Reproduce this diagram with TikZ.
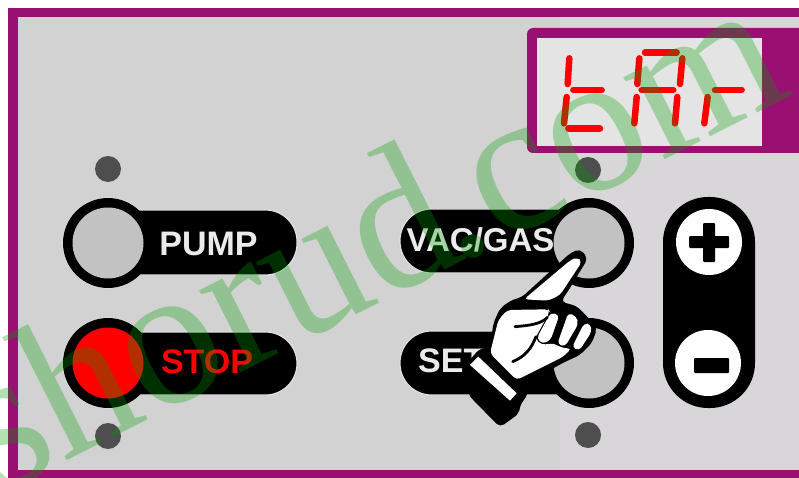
\documentclass[tikz,border=0pt]{standalone}
\usepackage{fontspec}
\setmainfont{Liberation Serif}
\setsansfont{Liberation Sans}
\definecolor{frame}{HTML}{9A0F72}
\definecolor{panel}{HTML}{D2D2D2}
\definecolor{panelb}{HTML}{D8D6D8}
\definecolor{led}{HTML}{4E4E4E}
\definecolor{keyface}{HTML}{C2C2C2}
\definecolor{lcd}{HTML}{E4E4E4}
\definecolor{seg}{HTML}{FF0000}
\definecolor{wm}{HTML}{00A000}
\definecolor{halo}{HTML}{E2E2E2}
\tikzset{
  ledlamp/.style={circle,fill=led,minimum size=26pt,inner sep=0pt},
  keyhalo/.style={circle,fill=black,draw=halo,line width=1.2pt,minimum size=90pt,inner sep=0pt},
  keyring/.style={circle,fill=black,minimum size=90pt,inner sep=0pt},
  keyfacestyle/.style={circle,fill=keyface,minimum size=71pt,inner sep=0pt},
  pill/.style={rounded corners=31.5pt,fill=black,draw=halo,line width=1.2pt},
  keytext/.style={font=\sffamily\bfseries\fontsize{34}{34}\selectfont,text=white!92!black,inner sep=0pt},
  segment/.style={draw=seg,line width=6.5pt,line cap=round},
  signbtn/.style={circle,fill=white,minimum size=66pt,inner sep=0pt},
  signbar/.style={fill=black,rounded corners=1pt},
  handwhite/.style={fill=white,rounded corners=4pt},
  handline/.style={draw=black,line width=2.8pt,line cap=round},
  watermark/.style={rotate=26.8,font=\rmfamily\fontsize{200}{200}\selectfont,text=wm,opacity=.3,inner sep=0pt,anchor=base west},
}
\begin{document}
\begin{tikzpicture}[x=1pt,y=-1pt]
\useasboundingbox (0,0) rectangle (799,478);
\fill[white] (0,0) rectangle (799,478);
% panel
\fill[frame] (8,8) rectangle (799,478);
\fill[panel] (18,17) rectangle (799,470);
\fill[panelb] (560,17) rectangle (799,470);
% display
\fill[frame,rounded corners=6pt] (527,28) -- (815,28) -- (815,153) -- (527,153) -- cycle;
\fill[lcd] (537,38) rectangle (762,146);
% seven segment tAr
\begin{scope}[shift={(520,10)},x=.3333pt,y=-.3333pt]
\draw[segment] (148,145) -- (143,222);
\draw[segment] (140,261) -- (132,340);
\draw[segment] (160,240) -- (245,240);
\draw[segment] (145,355) -- (240,355);
\draw[segment] (375,128) -- (470,128);
\draw[segment] (358,145) -- (352,222);
\draw[segment] (487,145) -- (480,222);
\draw[segment] (365,240) -- (460,240);
\draw[segment] (350,261) -- (343,340);
\draw[segment] (472,261) -- (465,340);
\draw[segment] (585,240) -- (665,240);
\draw[segment] (563,261) -- (553,340);
\end{scope}
% leds
\node[ledlamp] (ledA) at (108,169) {};
\node[ledlamp] (ledB) at (108,436) {};
\node[ledlamp] (ledC) at (588,170) {};
\node[ledlamp] (ledD) at (588,435) {};
% keys: halo first, then pill, then ring
\node[keyhalo] at (108,243) {};
\node[keyhalo] at (108,363) {};
\node[keyhalo] at (589,243) {};
\node[keyhalo] at (589,363) {};
\draw[pill] (100,210) rectangle (297,275);
\draw[pill] (100,332) rectangle (297,395);
\draw[pill] (400,209) rectangle (600,273);
\draw[pill] (400,331) rectangle (600,395);
\node[keyring] (pumpring) at (108,243) {};
\node[keyfacestyle] (pumpface) at (108,243) {};
\node[keyring] (stopring) at (108,363) {};
\node[keyfacestyle,fill=red] (stopface) at (108,363) {};
\node[keyring] (vacring) at (589,243) {};
\node[keyfacestyle] (vacface) at (589,243) {};
\node[keyring] (setring) at (589,363) {};
\node[keyfacestyle] (setface) at (589,363) {};
\node[keytext] (pump) at (208.5,244) {PUMP};
\node[keytext,text=red] (stop) at (207,362) {STOP};
\node[keytext,font=\sffamily\bfseries\fontsize{33}{33}\selectfont] (vac) at (480.5,240) {VAC/GAS};
\node[keytext,anchor=west] (set) at (418,361) {SET};
% plus minus
\fill[black,rounded corners=45pt] (663,197) rectangle (755,408);
\node[signbtn] (plus) at (709,242) {};
\node[signbtn] (minus) at (708,363) {};
\fill[signbar] (689,236) rectangle (729,248);
\fill[signbar] (703,223) rectangle (715,262);
\fill[signbar] (694,358) rectangle (729,373);
% hand (coordinates scaled from the crop)
\begin{scope}[shift={(400,180)},x=.3333pt,y=-.3333pt]
\fill[black,rounded corners=5pt] (205,545) -- (240,505) -- (270,505) -- (280,430) -- (300,385) -- (335,360) -- (365,352)
  -- (510,220) -- (540,206) -- (564,235) -- (500,340) -- (482,365) -- (530,378) -- (560,408) -- (592,445)
  -- (575,490) -- (540,525) -- (490,548) -- (380,610) -- (385,640) -- (358,680) -- (358,700) -- (300,742) -- (205,645) -- cycle;
\fill[handwhite] (372,358) -- (512,240) -- (532,232) -- (546,245) -- (480,345) -- (445,362) -- cycle;
\fill[handwhite] (270,520) -- (285,460) -- (295,420) -- (322,390) -- (445,388) -- (450,395) -- (405,475) -- (425,495) -- (455,490)
  -- (470,495) -- (490,505) -- (515,505) -- (490,530) -- (350,600) -- cycle;
\fill[handwhite] (452,398) -- (478,405) -- (452,480) -- (428,492) -- (410,475) -- cycle;
\fill[handwhite] (505,398) -- (530,410) -- (535,432) -- (495,500) -- (472,492) -- cycle;
\fill[handwhite] (552,430) -- (572,432) -- (575,455) -- (538,512) -- (516,502) -- cycle;
\draw[handline] (345,440) .. controls (385,437) and (425,432) .. (442,412);
\draw[handline] (408,470) .. controls (395,505) and (375,530) .. (338,545);
\fill[white] (235,530) -- (350,640) -- (330,662) -- (210,555) -- cycle;
\end{scope}
% watermark
\begin{scope}
\clip (0,0) rectangle (799,478);
\node[watermark] (markA) at (-4,497) {\scalebox{.975}[1]{shorud}};
\node[watermark] (markB) at (455,266) {\scalebox{.97}[1]{.com}};
\end{scope}
\end{tikzpicture}
\end{document}
